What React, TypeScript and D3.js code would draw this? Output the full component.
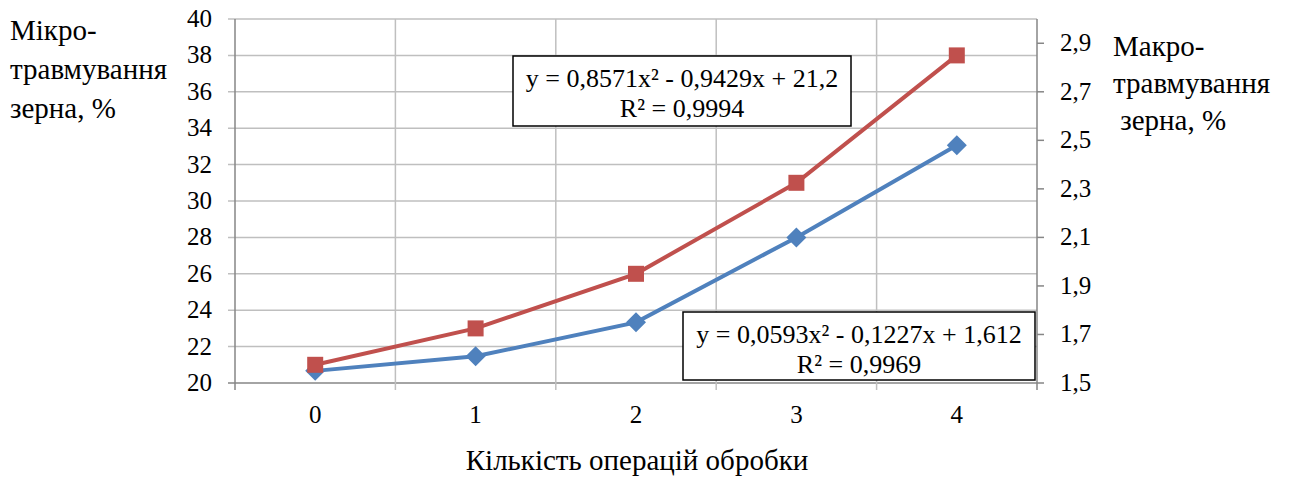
import { useEffect, useRef } from 'react'
import * as d3 from 'd3'

const categories = ['0', '1', '2', '3', '4']
const microValues = [21, 23, 26, 31, 38]
const macroValues = [1.55, 1.61, 1.75, 2.1, 2.48]
const leftTicks = [20, 22, 24, 26, 28, 30, 32, 34, 36, 38, 40]
const rightTicks = [1.5, 1.7, 1.9, 2.1, 2.3, 2.5, 2.7, 2.9]
const leftTitle = ['Мікро-', 'травмування', 'зерна, %']
const rightTitle = ['Макро-', 'травмування', '\u00a0зерна, %']
const xTitle = 'Кількість операцій обробки'
const microEq = ['y = 0,8571x² - 0,9429x + 21,2', 'R² = 0,9994']
const macroEq = ['y = 0,0593x² - 0,1227x + 1,612', 'R² = 0,9969']

const W = 1301
const H = 479
const plot = { left: 235, right: 1037, top: 19, bottom: 383 }
const RED = '#C0504D'
const BLUE = '#4F81BD'
const GRID = '#BFBFBF'
const AXIS = '#868686'
const FONT = "'Liberation Serif', Tinos, 'Times New Roman', serif"

const fmt = (v: number) => v.toFixed(1).replace('.', ',')

const EqBox = ({ x, y, w, h, lines }: { x: number; y: number; w: number; h: number; lines: string[] }) => (
  <g>
    <rect x={x} y={y} width={w} height={h} fill="white" stroke="#000" strokeWidth={1.5} />
    {lines.map((t, i) => (
      <text key={i} x={x + w / 2} y={y + 31 + i * 30} textAnchor="middle" fontSize={26}>
        {t}
      </text>
    ))}
  </g>
)

export default function App() {
  const ref = useRef<SVGSVGElement>(null)

  // force the serif face on every label
  useEffect(() => {
    if (!ref.current) return
    d3.select(ref.current)
      .selectAll<SVGTextElement, unknown>('text')
      .each(function () {
        this.style.setProperty('font-family', FONT, 'important')
      })
  }, [])

  const x = d3.scaleBand().domain(categories).range([plot.left, plot.right])
  const yL = d3.scaleLinear().domain([20, 40]).range([plot.bottom, plot.top])
  const yR = d3.scaleLinear().domain([1.5, 3.0]).range([plot.bottom, plot.top])
  const cx = (c: string) => (x(c) ?? 0) + x.bandwidth() / 2

  const microLine = d3.line<number>().x((_, i) => cx(categories[i])).y((d) => yL(d))
  const macroLine = d3.line<number>().x((_, i) => cx(categories[i])).y((d) => yR(d))

  const bounds = [...categories.map((c) => x(c) ?? 0), plot.right]

  return (
    <svg ref={ref} width={W} height={H} style={{ position: 'absolute', left: 0, top: 0 }}>
      <rect width={W} height={H} fill="white" />
      {leftTicks.map((t) => (
        <line key={t} x1={plot.left - 7} x2={plot.right} y1={yL(t)} y2={yL(t)} stroke={t === 20 ? AXIS : GRID} strokeWidth={1.5} />
      ))}
      {bounds.map((b, i) => (
        <line key={i} x1={b} x2={b} y1={plot.top} y2={plot.bottom + (i > 0 && i < bounds.length - 1 ? 7 : 0)} stroke={i === 0 || i === bounds.length - 1 ? AXIS : GRID} strokeWidth={1.5} />
      ))}
      <line x1={plot.left} x2={plot.left} y1={plot.bottom} y2={plot.bottom + 7} stroke={AXIS} strokeWidth={1.5} />
      <line x1={plot.right} x2={plot.right} y1={plot.bottom} y2={plot.bottom + 7} stroke={AXIS} strokeWidth={1.5} />
      {rightTicks.map((t) => (
        <line key={t} x1={plot.right} x2={plot.right + 7} y1={yR(t)} y2={yR(t)} stroke={AXIS} strokeWidth={1.5} />
      ))}
      {leftTicks.map((t) => (
        <text key={t} x={212} y={yL(t) + 8} textAnchor="end" fontSize={25}>
          {t}
        </text>
      ))}
      {rightTicks.map((t) => (
        <text key={t} x={1060} y={yR(t) + 8} fontSize={25}>
          {fmt(t)}
        </text>
      ))}
      {categories.map((c) => (
        <text key={c} x={cx(c)} y={423} textAnchor="middle" fontSize={25}>
          {c}
        </text>
      ))}
      <text x={(plot.left + plot.right) / 2 + 1} y={470} textAnchor="middle" fontSize={29}>
        {xTitle}
      </text>
      {leftTitle.map((t, i) => (
        <text key={i} x={10} y={40 + i * 39} fontSize={29}>
          {t}
        </text>
      ))}
      {rightTitle.map((t, i) => (
        <text key={i} x={1113} y={56 + i * 37} fontSize={29}>
          {t}
        </text>
      ))}
      <path d={macroLine(macroValues) ?? ''} fill="none" stroke={BLUE} strokeWidth={4} />
      <path d={microLine(microValues) ?? ''} fill="none" stroke={RED} strokeWidth={4} />
      {macroValues.map((v, i) => {
        const px = cx(categories[i])
        const py = yR(v)
        return <path key={i} d={`M${px},${py - 10}L${px + 10},${py}L${px},${py + 10}L${px - 10},${py}Z`} fill={BLUE} />
      })}
      {microValues.map((v, i) => (
        <rect key={i} x={cx(categories[i]) - 8} y={yL(v) - 8} width={16} height={16} fill={RED} />
      ))}
      <EqBox x={513} y={56} w={338} h={70} lines={microEq} />
      <EqBox x={683} y={312} w={352} h={68} lines={macroEq} />
    </svg>
  )
}
